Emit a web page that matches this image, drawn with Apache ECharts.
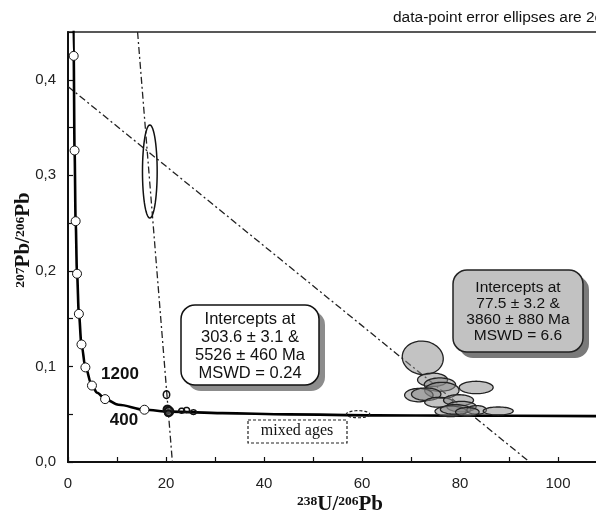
<!DOCTYPE html>
<html>
<head>
<meta charset="utf-8">
<script src="https://cdn.jsdelivr.net/npm/echarts@6/dist/echarts.min.js"></script>
<style>
  html, body { margin: 0; padding: 0; background: #fff; }
  #chart { width: 596px; height: 518px; }
</style>
</head>
<body>
<div id="chart"></div>
<script>
// Concordia curve (238U/206Pb vs 207Pb/206Pb)
const concordiaX = [1.02, 1.16, 1.34, 1.56, 1.84, 2.22, 2.75, 3.55, 4.89, 5.96, 7.57, 10.3, 15.6, 20.8, 31.5, 45, 63, 79, 110];
const concordiaY = [0.55, 0.425, 0.326, 0.252, 0.197, 0.155, 0.123, 0.099, 0.080, 0.0725, 0.0658, 0.0599, 0.0547, 0.0527, 0.0511, 0.0498, 0.0488, 0.0485, 0.0480];

// age markers on the concordia (4000 ... 400 Ma)
const markerX = [1.16, 1.34, 1.56, 1.84, 2.22, 2.75, 3.55, 4.89, 7.57, 15.6];
const markerY = [0.425, 0.326, 0.252, 0.197, 0.155, 0.123, 0.099, 0.080, 0.0658, 0.0547];

// discordia lines
const disc1X = [14.2, 21.3];
const disc1Y = [0.45, 0];
const disc2X = [0, 94.2];
const disc2Y = [0.393, 0];

// error ellipses: centre x, centre y, half-width (x units), half-height (y units), tilt (deg)
const openCx = [16.7, 20.1, 23.2, 24.2, 25.6];
const openCy = [0.304, 0.0705, 0.0537, 0.0545, 0.0522];
const openRx = [1.5, 0.65, 0.6, 0.6, 0.6];
const openRy = [0.0487, 0.004, 0.0026, 0.0026, 0.0024];
const openRot = [0, 0, 0, 0, 0];

const darkCx = [20.3, 20.6, 20.5];
const darkCy = [0.055, 0.053, 0.051];
const darkRx = [0.8, 0.9, 0.7];
const darkRy = [0.004, 0.0045, 0.003];

const greyCx = [72.4, 74.4, 75.9, 76.3, 83.3, 71.6, 73.1, 75.7, 79.7, 80.3, 78.1, 79.1, 83.4, 87.8, 81.5];
const greyCy = [0.109, 0.086, 0.081, 0.075, 0.078, 0.070, 0.071, 0.0625, 0.0646, 0.058, 0.053, 0.055, 0.0545, 0.0534, 0.0524];
const greyRx = [4.2, 3.06, 3.2, 3.5, 3.47, 2.9, 3.0, 2.9, 3.06, 3.0, 3.2, 3.1, 2.0, 3.06, 2.4];
const greyRy = [0.0175, 0.007, 0.007, 0.0084, 0.0065, 0.007, 0.0065, 0.0052, 0.0058, 0.0055, 0.0055, 0.005, 0.0045, 0.0042, 0.0045];
const greyRot = [8, 0, 0, 0, 0, 0, 0, 0, 0, 0, 0, 0, 0, 0, 0];

const mixedCx = [59.2];
const mixedCy = [0.050];
const mixedRx = [2.4];
const mixedRy = [0.0037];

// axis ticks
const xTickStep = 10;
const yTickStep = 0.05;

const zipPts = (xs, ys) => xs.map((x, i) => [x, ys[i]]);
const ellRows = (cx, cy, rx, ry, rot) => cx.map((x, i) => [x, cy[i], rx[i], ry[i], rot ? rot[i] : 0]);

const chart = echarts.init(document.getElementById('chart'));

const makeEllipses = (rows, style, z) => ({
  type: 'custom',
  coordinateSystem: 'cartesian2d',
  data: rows,
  encode: { x: 0, y: 1 },
  z: z,
  silent: true,
  renderItem: (params, api) => {
    const c = api.coord([api.value(0), api.value(1)]);
    const s = api.size([api.value(2), api.value(3)]);
    const a = api.value(4) * Math.PI / 180;
    const pts = [];
    for (let i = 0; i < 60; i++) {
      const t = i / 60 * Math.PI * 2;
      const ex = s[0] * Math.cos(t);
      const ey = s[1] * Math.sin(t);
      pts.push([c[0] + ex * Math.cos(a) - ey * Math.sin(a), c[1] + ex * Math.sin(a) + ey * Math.cos(a)]);
    }
    return { type: 'polygon', shape: { points: pts }, style: style };
  }
});

const sans = 'Liberation Sans, Arial, sans-serif';
const serif = 'Liberation Serif, Times New Roman, serif';
const dashDot = [7, 3, 2, 3];

const option = {
  animation: false,
  grid: {
    left: 68, top: 32, width: 110 * 4.9, height: 430,
    outerBoundsMode: 'none', containLabel: false,
    show: true, borderColor: '#222', borderWidth: 1.5, backgroundColor: 'transparent'
  },
  xAxis: {
    type: 'value', min: 0, max: 110, interval: xTickStep,
    axisLine: { lineStyle: { color: '#111', width: 2 } },
    axisTick: { inside: true, length: 5, lineStyle: { color: '#111', width: 1.2 } },
    axisLabel: {
      margin: 14, color: '#222', fontSize: 15, fontFamily: sans,
      formatter: v => (v % 20 === 0 ? String(v) : '')
    },
    splitLine: { show: false }
  },
  yAxis: {
    type: 'value', min: 0, max: 0.45, interval: yTickStep,
    axisLine: { lineStyle: { color: '#111', width: 2 } },
    axisTick: { inside: true, length: 5, lineStyle: { color: '#111', width: 1.2 } },
    axisLabel: {
      margin: 12, color: '#222', fontSize: 15, fontFamily: sans,
      formatter: v => (Math.round(v * 100) % 10 === 0 ? v.toFixed(1).replace('.', ',') : '')
    },
    splitLine: { show: false }
  },
  series: [
    {
      type: 'line', data: zipPts(disc1X, disc1Y), showSymbol: false, silent: true, z: 2,
      lineStyle: { color: '#222', width: 1.3, type: dashDot }
    },
    {
      type: 'line', data: zipPts(disc2X, disc2Y), showSymbol: false, silent: true, z: 2,
      lineStyle: { color: '#222', width: 1.3, type: dashDot }
    },
    {
      type: 'line', data: zipPts(concordiaX, concordiaY), showSymbol: false, silent: true, z: 3,
      smooth: 0.35, smoothMonotone: 'x',
      lineStyle: { color: '#000', width: 2.6 }
    },
    {
      type: 'scatter', data: zipPts(markerX, markerY), symbol: 'circle', symbolSize: 9, z: 4,
      itemStyle: { color: '#fff', borderColor: '#111', borderWidth: 1, opacity: 1 }
    },
    makeEllipses(ellRows(openCx, openCy, openRx, openRy, openRot),
      { fill: 'none', stroke: '#111', lineWidth: 1.5 }, 5),
    makeEllipses(ellRows(darkCx, darkCy, darkRx, darkRy),
      { fill: 'rgba(90,90,90,0.5)', stroke: '#111', lineWidth: 2 }, 5),
    makeEllipses(ellRows(mixedCx, mixedCy, mixedRx, mixedRy),
      { fill: 'none', stroke: '#222', lineWidth: 1.2, lineDash: [3, 2] }, 5),
    makeEllipses(ellRows(greyCx, greyCy, greyRx, greyRy, greyRot),
      { fill: 'rgba(135,135,135,0.5)', stroke: '#222', lineWidth: 1.3 }, 6)
  ],
  graphic: [
    // note on top
    { type: 'text', x: 393, y: 18, style: { text: 'data-point error ellipses are 2σ', font: '15.5px ' + sans, fill: '#111', align: 'left', verticalAlign: 'middle' } },
    // age labels
    { type: 'text', x: 120, y: 374, style: { text: '1200', font: 'bold 17px ' + sans, fill: '#111', align: 'center', verticalAlign: 'middle' } },
    { type: 'text', x: 124, y: 420, style: { text: '400', font: 'bold 17px ' + sans, fill: '#111', align: 'center', verticalAlign: 'middle' } },
    // intercept box 1
    { type: 'rect', shape: { x: 187, y: 311, width: 138, height: 80, r: 14 }, style: { fill: '#8c8c8c' }, z: 20 },
    { type: 'rect', shape: { x: 181, y: 305, width: 138, height: 80, r: 14 }, style: { fill: '#fff', stroke: '#111', lineWidth: 1.5 }, z: 21 },
    { type: 'text', x: 250, y: 346, z: 22, style: { text: 'Intercepts at\n303.6 ± 3.1 &\n5526 ± 460 Ma\nMSWD = 0.24', font: '16.5px ' + sans, lineHeight: 18, fill: '#111', align: 'center', verticalAlign: 'middle' } },
    // intercept box 2
    { type: 'rect', shape: { x: 459, y: 276, width: 130, height: 82, r: 14 }, style: { fill: '#7a7a7a' }, z: 20 },
    { type: 'rect', shape: { x: 453, y: 270, width: 130, height: 82, r: 14 }, style: { fill: '#c2c2c2', stroke: '#222', lineWidth: 1.5 }, z: 21 },
    { type: 'text', x: 518, y: 312, z: 22, style: { text: 'Intercepts at\n77.5 ± 3.2 &\n3860 ± 880 Ma\nMSWD = 6.6', font: '15.5px ' + sans, lineHeight: 16, fill: '#111', align: 'center', verticalAlign: 'middle' } },
    // mixed ages box
    { type: 'rect', shape: { x: 248, y: 420, width: 99, height: 23 }, style: { fill: '#fff', stroke: '#222', lineWidth: 1.2, lineDash: [3, 2] }, z: 20 },
    { type: 'text', x: 297, y: 431, z: 21, style: { text: 'mixed ages', font: '16px ' + serif, fill: '#111', align: 'center', verticalAlign: 'middle' } },
    // axis titles
    {
      type: 'text', x: 340, y: 505,
      style: {
        text: '{s|238}{m|U/}{s|206}{m|Pb}', align: 'center', verticalAlign: 'middle',
        rich: {
          s: { fontSize: 13.5, fontWeight: 'bold', fontFamily: serif, fill: '#111', verticalAlign: 'top' },
          m: { fontSize: 21, fontWeight: 'bold', fontFamily: serif, fill: '#111' }
        }
      }
    },
    {
      type: 'text', x: 24, y: 240, rotation: Math.PI / 2,
      style: {
        text: '{s|207}{m|Pb/}{s|206}{m|Pb}', align: 'center', verticalAlign: 'middle',
        rich: {
          s: { fontSize: 13.5, fontWeight: 'bold', fontFamily: serif, fill: '#111', verticalAlign: 'top' },
          m: { fontSize: 21, fontWeight: 'bold', fontFamily: serif, fill: '#111' }
        }
      }
    }
  ]
};

chart.setOption(option);
</script>
</body>
</html>
